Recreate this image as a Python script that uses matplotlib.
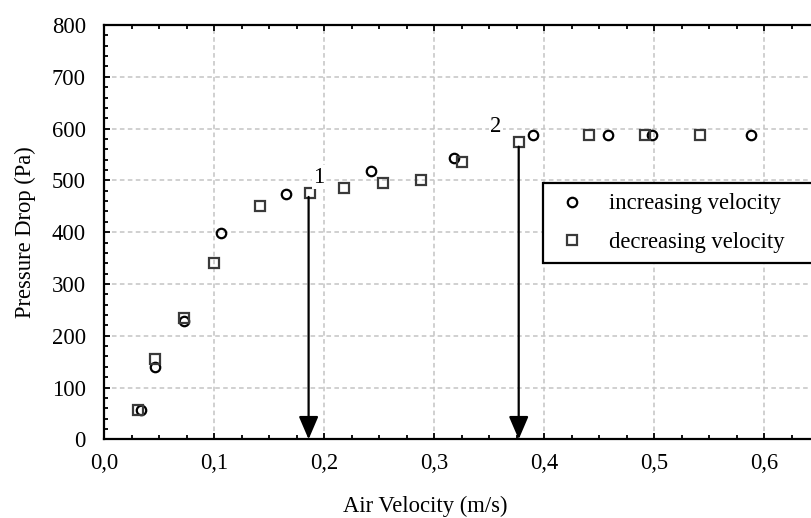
"""Pressure drop vs. air velocity, increasing and decreasing velocity runs."""

import matplotlib
matplotlib.use("Agg")
import matplotlib.pyplot as plt
from matplotlib.ticker import MultipleLocator, FuncFormatter

# increasing velocity (circles)
inc_velocity = [0.034, 0.046, 0.073, 0.106, 0.165, 0.243, 0.318, 0.390, 0.458, 0.498, 0.588]
inc_pressure = [57, 140, 229, 398, 473, 518, 544, 588, 588, 588, 588]

# decreasing velocity (squares)
dec_velocity = [0.031, 0.046, 0.073, 0.100, 0.142, 0.187, 0.218, 0.254, 0.288, 0.325, 0.377,
                0.441, 0.492, 0.542]
dec_pressure = [57, 155, 234, 340, 451, 475, 486, 495, 500, 535, 575, 588, 588, 588]

# marked transition points
arrow_x = [0.186, 0.377]
arrow_top = [468, 565]
arrow_labels = ["1", "2"]
label_x = [0.195, 0.356]
label_y = [506, 604]

FONT = "Liberation Serif"
FS = 16.3

plt.rcParams["font.family"] = [FONT, "DejaVu Serif"]

fig = plt.figure(figsize=(8.11, 5.18), dpi=100)
ax = fig.add_axes([104 / 811, 1 - 439.3 / 518, 707 / 811, (439.3 - 25) / 518])

ax.set_xlim(0, 707 / 1100)
ax.set_ylim(0, 800)

ax.grid(True, which="major", color="#c4c4c4", linestyle=(0, (3, 2.2)), linewidth=1.1, zorder=0)
ax.set_axisbelow(True)

ax.plot(inc_velocity, inc_pressure, linestyle="none", marker="o", markersize=6.8,
        markerfacecolor="none", markeredgecolor="black", markeredgewidth=1.6,
        label="increasing velocity", zorder=3)
ax.plot(dec_velocity, dec_pressure, linestyle="none", marker="s", markersize=7.0,
        markerfacecolor="none", markeredgecolor="#3a3a3a", markeredgewidth=1.6,
        label="decreasing velocity", zorder=4)

for x, top in zip(arrow_x, arrow_top):
    ax.annotate("", xy=(x, 0), xytext=(x, top),
                arrowprops=dict(arrowstyle="-|>,head_length=0.7,head_width=0.3",
                                color="black", lw=1.6, shrinkA=0, shrinkB=0,
                                mutation_scale=20),
                zorder=5)

for x, y, t in zip(label_x, label_y, arrow_labels):
    ax.text(x, y, t, fontsize=FS, ha="center", va="center", zorder=6,
            bbox=dict(facecolor="white", edgecolor="none", pad=1.0))

ax.xaxis.set_major_locator(MultipleLocator(0.1))
ax.xaxis.set_minor_locator(MultipleLocator(0.025))
ax.yaxis.set_major_locator(MultipleLocator(100))
ax.yaxis.set_minor_locator(MultipleLocator(20))
ax.xaxis.set_major_formatter(FuncFormatter(lambda v, _: f"{v:.1f}".replace(".", ",")))
ax.yaxis.set_major_formatter(FuncFormatter(lambda v, _: f"{v:.0f}"))

ax.tick_params(which="both", direction="in", top=True, right=False, labelsize=FS, width=1.3)
ax.tick_params(which="major", length=4)
ax.tick_params(which="minor", length=3)
ax.tick_params(axis="x", which="major", pad=10)
ax.tick_params(axis="y", which="major", pad=13)

for side in ["left", "bottom", "top"]:
    ax.spines[side].set_linewidth(1.6)
ax.spines["right"].set_visible(False)

ax.set_xlabel("Air Velocity (m/s)", fontsize=FS)
ax.set_ylabel("Pressure Drop (Pa)", fontsize=FS)
ax.xaxis.set_label_coords(0.455, -0.137)
ax.yaxis.set_label_coords(-0.096, 0.5)

leg_left = (543.3 - 104) / 707
leg_top = (439.3 - 183.3) / (439.3 - 25)
leg = ax.legend(loc="upper left", bbox_to_anchor=(leg_left, 0, 0.8, leg_top),
                mode="expand", borderaxespad=0, fontsize=FS, frameon=True,
                fancybox=False, shadow=False, handlelength=1.6, handletextpad=0.84,
                borderpad=0.45, labelspacing=0.76)
leg.get_frame().set_edgecolor("black")
leg.get_frame().set_linewidth(1.6)
leg.get_frame().set_alpha(1)
leg.set_zorder(7)

fig.savefig("out.png", dpi=100)
